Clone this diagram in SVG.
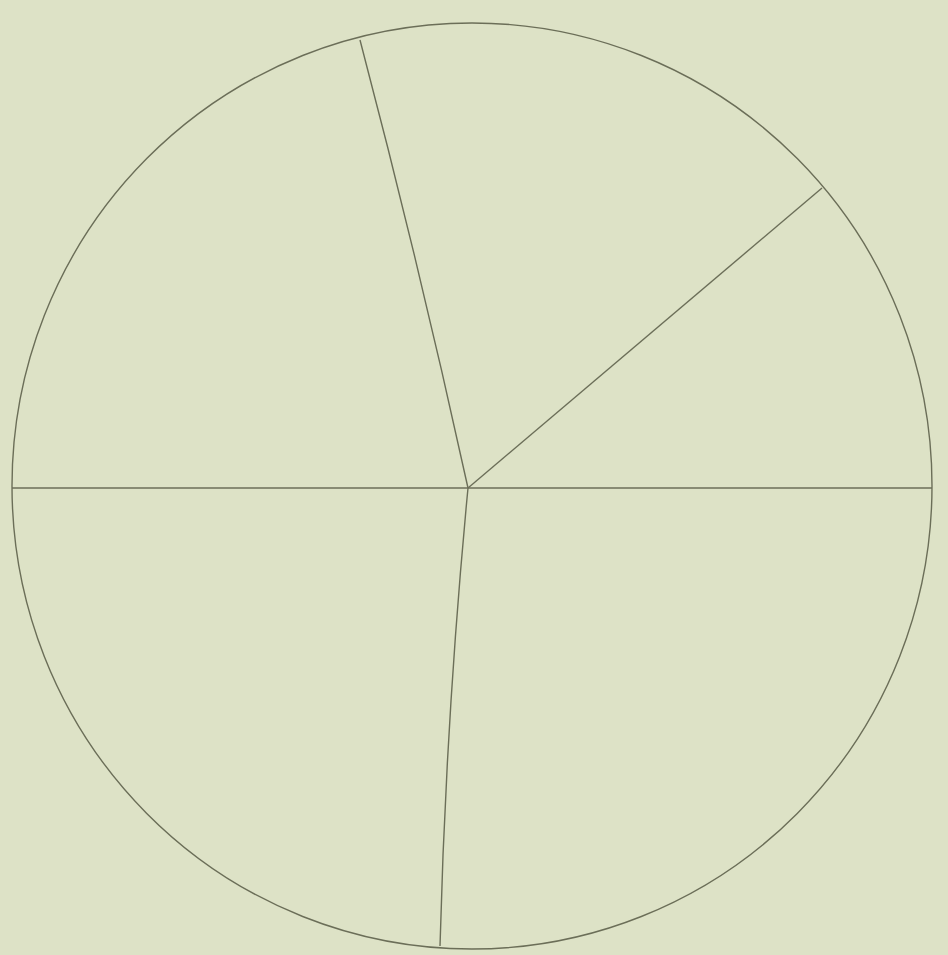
<svg xmlns="http://www.w3.org/2000/svg" width="948" height="955" viewBox="0 0 948 955">
<style>
.l{stroke:#6b6e58;stroke-width:1.4;fill:none}
</style>
<rect width="948" height="955" fill="#dde2c6"/>
<g id="circle"><ellipse class="l" cx="472" cy="486" rx="460" ry="463"/></g>
<g id="connectors">
<line class="l" x1="12" y1="488" x2="932" y2="488"/>
<path class="l" d="M468 488 Q419 264 360 40"/>
<line class="l" x1="468" y1="488" x2="822" y2="188"/>
<path class="l" d="M468 488 Q446 717 440 946"/>
</g>
</svg>
